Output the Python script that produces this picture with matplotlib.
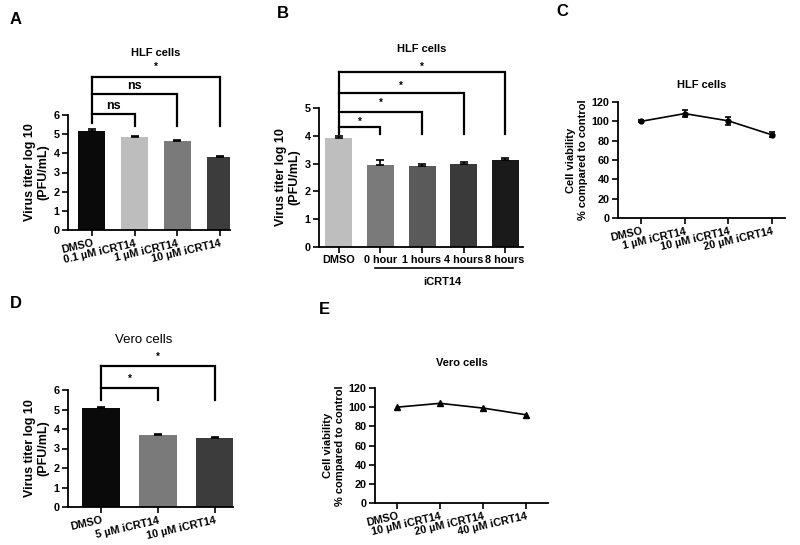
import matplotlib
matplotlib.use("Agg")
import matplotlib.pyplot as plt

plt.rcParams['font.family'] = ['Liberation Sans', 'DejaVu Sans']
plt.rcParams['font.weight'] = 'bold'
plt.rcParams['axes.labelweight'] = 'bold'

# ---------------- Data ----------------
a_labels = ["DMSO", "0.1 µM iCRT14", "1 µM iCRT14", "10 µM iCRT14"]
a_values = [5.15, 4.87, 4.65, 3.82]
a_errors = [0.1, 0.03, 0.05, 0.04]
a_colors = ["#0a0a0a", "#bdbdbd", "#7a7a7a", "#3c3c3c"]
a_sig = ["ns", "ns", "*"]

b_labels = ["DMSO", "0 hour", "1 hours", "4 hours", "8 hours"]
b_values = [3.93, 2.94, 2.93, 2.97, 3.14]
b_errors = [0.08, 0.18, 0.07, 0.1, 0.06]
b_colors = ["#bebebe", "#7a7a7a", "#5a5a5a", "#3a3a3a", "#1a1a1a"]
b_sig = ["*", "*", "*", "*"]

c_labels = ["DMSO", "1 µM iCRT14", "10 µM iCRT14", "20 µM iCRT14"]
c_values = [100, 108, 100.5, 86]
c_errors = [1, 4, 4, 2.5]

d_labels = ["DMSO", "5 µM iCRT14", "10 µM iCRT14"]
d_values = [5.1, 3.68, 3.53]
d_errors = [0.05, 0.05, 0.04]
d_colors = ["#0a0a0a", "#7a7a7a", "#3c3c3c"]
d_sig = ["*", "*"]

e_labels = ["DMSO", "10 µM iCRT14", "20 µM iCRT14", "40 µM iCRT14"]
e_values = [100, 104, 99, 92]

W, H = 800, 545
fig = plt.figure(figsize=(8, 5.45), dpi=100)

def ax_px(l, r, t, b):
    return fig.add_axes([l / W, 1 - b / H, (r - l) / W, (b - t) / H])

TICK_FS = 7.8
XROT_FS = 8.2
LAB_FS = 9
LAB_FS_V = 8

def style(ax):
    for s in ['top', 'right']:
        ax.spines[s].set_visible(False)
    for s in ['left', 'bottom']:
        ax.spines[s].set_linewidth(1.3)
    ax.tick_params(axis='both', width=1.2, length=4, labelsize=TICK_FS, pad=2)

def bracket(ax, x0, x1, y, yl0, yl1, text, ty, fs=7, weight='bold'):
    ax.plot([x0, x0, x1, x1], [yl0, y, y, yl1], color='black', lw=1.6,
            clip_on=False, solid_joinstyle='miter')
    ax.text((x0 + x1) / 2, ty, text, ha='center', va='center', fontsize=fs,
            fontweight=weight, clip_on=False)

def rot_labels(ax, labels, rot=13):
    ax.set_xticklabels(labels, rotation=rot, ha='right', va='top',
                       rotation_mode='anchor', fontsize=XROT_FS)

# ---------------- Panel A ----------------
axA = ax_px(68, 230, 115, 230)
xa = list(range(len(a_values)))
axA.bar(xa, a_values, width=0.63, color=a_colors)
axA.errorbar(xa, a_values, yerr=[[0] * len(a_errors), a_errors], fmt='none',
             ecolor='black', elinewidth=1.2, capsize=3, capthick=1.2)
axA.set_xlim(-0.56, 3.23)
axA.set_ylim(0, 6)
axA.set_yticks(range(0, 7))
axA.set_xticks(xa)
rot_labels(axA, a_labels)
axA.set_ylabel("Virus titer log 10\n(PFU/mL)", fontsize=LAB_FS, labelpad=3)
style(axA)
axA.plot([0, 0], [5.58, 7.98], color='black', lw=1.6, clip_on=False)
bracket(axA, 0, 1, 6.05, 6.05, 5.43, a_sig[0], 6.45, fs=9, weight='bold')
bracket(axA, 0, 2, 7.1, 7.1, 5.43, a_sig[1], 7.5, fs=9, weight='bold')
bracket(axA, 0, 3, 7.98, 7.98, 5.43, a_sig[2], 8.5)
axA.text(1.5, 9.25, "HLF cells", ha='center', va='center', fontsize=8,
         fontweight='bold', clip_on=False)

# ---------------- Panel B ----------------
axB = ax_px(319, 523, 108, 247)
xb = list(range(len(b_values)))
axB.bar(xb, b_values, width=0.65, color=b_colors)
axB.errorbar(xb, b_values, yerr=[[0] * len(b_errors), b_errors], fmt='none',
             ecolor='black', elinewidth=1.2, capsize=3, capthick=1.2)
axB.set_xlim(-0.48, 4.43)
axB.set_ylim(0, 5)
axB.set_yticks(range(0, 6))
axB.set_xticks(xb)
axB.set_xticklabels(b_labels, fontsize=7.5)
axB.set_ylabel("Virus titer log 10\n(PFU/mL)", fontsize=LAB_FS, labelpad=3)
style(axB)
axB.plot([0, 0], [4.05, 6.31], color='black', lw=1.6, clip_on=False)
b_levels = [4.33, 4.87, 5.53, 6.31]
b_star = [4.5, 5.17, 5.79, 6.49]
for i in range(4):
    bracket(axB, 0, i + 1, b_levels[i], b_levels[i], 4.05, b_sig[i], b_star[i])
axB.text(2.0, 7.12, "HLF cells", ha='center', va='center', fontsize=8,
         fontweight='bold', clip_on=False)
# iCRT14 group underline
axB.plot([0.87, 4.2], [-0.755, -0.755], color='black', lw=1.2, clip_on=False)
axB.text(2.5, -1.26, "iCRT14", ha='center', va='center', fontsize=8,
         fontweight='bold', clip_on=False)

# ---------------- Panel C ----------------
axC = ax_px(618, 785, 102, 218)
xc = list(range(len(c_values)))
axC.errorbar(xc, c_values, yerr=c_errors, color='black', lw=1.2, marker='o',
             markersize=3.5, ecolor='black', elinewidth=1.2, capsize=2.5,
             capthick=1.2)
axC.set_xlim(-0.53, 3.3)
axC.set_ylim(0, 120)
axC.set_yticks(range(0, 121, 20))
axC.set_xticks(xc)
rot_labels(axC, c_labels)
axC.set_ylabel("Cell viability\n% compared to control", fontsize=LAB_FS_V, labelpad=3)
style(axC)
axC.set_title("HLF cells", fontsize=8, fontweight='bold', pad=10)

# ---------------- Panel D ----------------
axD = ax_px(68, 233, 390, 507)
xd = list(range(len(d_values)))
axD.bar(xd, d_values, width=0.67, color=d_colors)
axD.errorbar(xd, d_values, yerr=[[0] * len(d_errors), d_errors], fmt='none',
             ecolor='black', elinewidth=1.2, capsize=3, capthick=1.2)
axD.set_xlim(-0.58, 2.32)
axD.set_ylim(0, 6)
axD.set_yticks(range(0, 7))
axD.set_xticks(xd)
rot_labels(axD, d_labels)
axD.set_ylabel("Virus titer log 10\n(PFU/mL)", fontsize=LAB_FS, labelpad=3)
style(axD)
axD.plot([0, 0], [5.5, 7.23], color='black', lw=1.6, clip_on=False)
bracket(axD, 0, 1, 6.1, 6.1, 5.49, d_sig[0], 6.56)
bracket(axD, 0, 2, 7.23, 7.23, 5.49, d_sig[1], 7.69)
axD.text(0.75, 8.57, "Vero cells", ha='center', va='center', fontsize=9.5,
         fontweight='normal', clip_on=False)

# ---------------- Panel E ----------------
axE = ax_px(375, 548, 388, 503)
xe = list(range(len(e_values)))
axE.plot(xe, e_values, color='black', lw=1.2, marker='^', markersize=5)
axE.set_xlim(-0.51, 3.5)
axE.set_ylim(0, 120)
axE.set_yticks(range(0, 121, 20))
axE.set_xticks(xe)
rot_labels(axE, e_labels)
axE.set_ylabel("Cell viability\n% compared to control", fontsize=LAB_FS_V, labelpad=3)
style(axE)
axE.set_title("Vero cells", fontsize=8, fontweight='bold', pad=16)

# Panel letters
for lab, x, y in [("A", 10, 20), ("B", 277, 14), ("C", 556, 12),
                  ("D", 10, 304), ("E", 319, 309)]:
    fig.text(x / W, 1 - y / H, lab, fontsize=12, fontweight='bold',
             ha='left', va='center')

fig.savefig("out.png", dpi=100)
